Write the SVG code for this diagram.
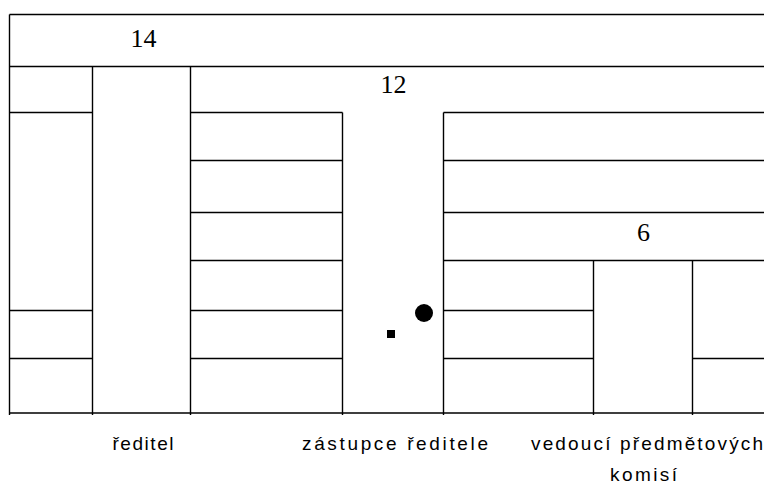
<svg xmlns="http://www.w3.org/2000/svg" width="764" height="484" viewBox="0 0 764 484">
<style>
.ln{stroke:#000;stroke-width:1.4;fill:none}
.num{font-family:"Liberation Serif",serif;font-size:26px;fill:#000;text-anchor:middle}
.lbl{font-family:"Liberation Sans",Arial,sans-serif;font-size:19px;fill:#000}
</style>
<rect width="764" height="484" fill="#fff"/>
<g id="connectors">
<path class="ln" d="M9.5 14.5H764M9.5 66.5H764M9.5 112.5H92.5M190.5 112.5H342.5M443.5 112.5H764M190.5 160.5H342.5M443.5 160.5H764M190.5 212.5H342.5M443.5 212.5H764M190.5 260.5H342.5M443.5 260.5H764M9.5 310.5H92.5M190.5 310.5H342.5M443.5 310.5H593.5M9.5 358.5H92.5M190.5 358.5H342.5M443.5 358.5H593.5M692.5 358.5H764M9.5 413H764"/>
<path class="ln" d="M9.5 14.5V415M92.5 66.5V415M190.5 66.5V415M342.5 112.5V415M443.5 112.5V415M593.5 260.5V415M692.5 260.5V415"/>
</g>
<g id="n14"><text class="num" x="143.5" y="47">14</text></g>
<g id="n12"><text class="num" x="393.5" y="93">12</text></g>
<g id="n6"><text class="num" x="643.5" y="241">6</text></g>
<g id="marks">
<circle cx="424" cy="313" r="9" fill="#000"/>
<rect x="387" y="330" width="8" height="8" fill="#000"/>
</g>
<g id="label-reditel"><text class="lbl" x="112.5" y="450" textLength="61" lengthAdjust="spacing">ředitel</text></g>
<g id="label-zastupce"><text class="lbl" x="302" y="450" textLength="186" lengthAdjust="spacing">zástupce ředitele</text></g>
<g id="label-vedouci"><text class="lbl" x="531" y="450" textLength="232" lengthAdjust="spacing">vedoucí předmětových</text>
<text class="lbl" x="610" y="481" textLength="67" lengthAdjust="spacing">komisí</text></g>
</svg>
